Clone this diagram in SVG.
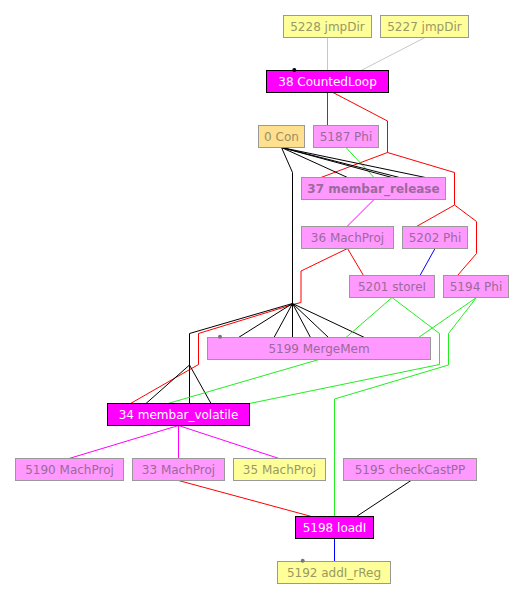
<svg xmlns="http://www.w3.org/2000/svg" width="527" height="607" viewBox="0 0 527 607">
<style>
rect{stroke-width:1}
.pk{fill:#ff99ff;stroke:#999999}
.ye{fill:#ffff99;stroke:#999999}
.co{fill:#ffe08f;stroke:#999999}
.mg{fill:#ff00ff;stroke:#000000}
text{font-family:"DejaVu Sans","Liberation Sans",sans-serif;font-size:12px;text-anchor:middle}
.tp{fill:#9a6a9a}
.ty{fill:#999966}
.tc{fill:#998f66}
.tw{fill:#ffffff}
.e path,.e line{fill:none;stroke-width:1}
.k{stroke:#000000}
.r{stroke:#ff0000}
.g{stroke:#22ee22}
.b{stroke:#0000ff}
.m{stroke:#ff00ff}
.y{stroke:#c8c8c8}
</style>
<rect width="527" height="607" fill="#ffffff"/>
<g class="e" id="connectors">
<line class="y" x1="327.5" y1="37.5" x2="327.5" y2="70.5"/>
<line class="y" x1="425" y1="37.5" x2="361" y2="70.5"/>
<line class="r" x1="327.5" y1="92.5" x2="327.5" y2="125.5"/>
<path class="r" d="M333,92.5 L387.5,121 L387.5,152.5 L321,177.5"/>
<path class="r" d="M387.5,152.5 L454.5,172.5 L454.5,205 L416.5,226.5"/>
<path class="r" d="M454.5,205 L476.5,221.5 L476.5,253.5 L457.5,275.5"/>
<line class="g" x1="346" y1="147.5" x2="374" y2="177.5"/>
<line class="k" x1="281.5" y1="147.5" x2="347.5" y2="177.5"/>
<line class="k" x1="281.5" y1="147.5" x2="392" y2="177.5"/>
<line class="k" x1="281.5" y1="147.5" x2="399.5" y2="177.5"/>
<line class="k" x1="281.5" y1="147.5" x2="425.5" y2="177.5"/>
<path class="k" d="M281.5,147.5 L292.5,172.5 L292.5,303.5"/>
<line class="m" x1="374" y1="199.5" x2="347" y2="226.5"/>
<path class="r" d="M347.5,248.5 L301,271 L301,302.5 L293,304.5 L198.5,333.5 L198.5,364.5 L130.5,403.5"/>
<line class="r" x1="347.5" y1="248.5" x2="363.5" y2="275.5"/>
<line class="b" x1="435" y1="248.5" x2="420" y2="275.5"/>
<path class="k" d="M292.5,303.5 L189.5,333.5 L189.5,403.5"/>
<line class="k" x1="189.5" y1="365" x2="146" y2="403.5"/>
<line class="k" x1="189.5" y1="365" x2="211" y2="403.5"/>
<line class="k" x1="292.5" y1="303.5" x2="238.5" y2="337.5"/>
<line class="k" x1="292.5" y1="303.5" x2="274" y2="337.5"/>
<line class="k" x1="292.5" y1="303.5" x2="292.5" y2="337.5"/>
<line class="k" x1="292.5" y1="303.5" x2="310.5" y2="337.5"/>
<line class="k" x1="292.5" y1="303.5" x2="328.5" y2="337.5"/>
<line class="k" x1="292.5" y1="303.5" x2="364.5" y2="337.5"/>
<line class="g" x1="392" y1="297.5" x2="346" y2="337.5"/>
<path class="g" d="M392,297.5 L439.5,333.5 L439.5,364.5 L249.5,403.5"/>
<line class="g" x1="476.5" y1="297.5" x2="418.5" y2="337.5"/>
<path class="g" d="M476.5,297.5 L448.5,333.5 L448.5,365 L334.5,399 L334.5,516.5"/>
<line class="g" x1="319" y1="359.5" x2="168" y2="403.5"/>
<line class="m" x1="178.5" y1="425.5" x2="69" y2="458.5"/>
<line class="m" x1="178.5" y1="425.5" x2="178.5" y2="458.5"/>
<line class="m" x1="178.5" y1="425.5" x2="279" y2="458.5"/>
<line class="r" x1="178.5" y1="480.5" x2="311.5" y2="516.5"/>
<line class="k" x1="411" y1="480.5" x2="356.5" y2="516.5"/>
<line class="b" x1="334.5" y1="538.5" x2="334.5" y2="561.5"/>
</g>
<g id="n5228"><rect class="ye" x="283.5" y="15.5" width="88" height="22"/><text class="ty" x="327.5" y="31">5228 jmpDir</text></g>
<g id="n5227"><rect class="ye" x="380.5" y="15.5" width="88" height="22"/><text class="ty" x="424.5" y="31">5227 jmpDir</text></g>
<g id="n38"><rect class="mg" x="266.5" y="70.5" width="122" height="22"/><text class="tw" x="327.5" y="86">38 CountedLoop</text><circle cx="294.3" cy="70" r="2" fill="#000000"/></g>
<g id="n0"><rect class="co" x="258.5" y="125.5" width="46" height="22"/><text class="tc" x="281.5" y="141">0 Con</text></g>
<g id="n5187"><rect class="pk" x="313.5" y="125.5" width="65" height="22"/><text class="tp" x="346" y="141">5187 Phi</text></g>
<g id="n37"><rect class="pk" x="301.5" y="177.5" width="144" height="22"/><text class="tp" x="373.5" y="193" font-weight="bold">37 membar_release</text></g>
<g id="n36"><rect class="pk" x="301.5" y="226.5" width="92" height="22"/><text class="tp" x="347.5" y="242">36 MachProj</text></g>
<g id="n5202"><rect class="pk" x="402.5" y="226.5" width="65" height="22"/><text class="tp" x="435" y="242">5202 Phi</text></g>
<g id="n5201"><rect class="pk" x="349.5" y="275.5" width="85" height="22"/><text class="tp" x="392" y="291">5201 storeI</text></g>
<g id="n5194"><rect class="pk" x="443.5" y="275.5" width="65" height="22"/><text class="tp" x="476" y="291">5194 Phi</text></g>
<g id="n5199"><rect class="pk" x="207.5" y="337.5" width="223" height="22"/><text class="tp" x="319" y="353">5199 MergeMem</text><circle cx="220" cy="336.7" r="2" fill="#777777"/></g>
<g id="n34"><rect class="mg" x="107.5" y="403.5" width="142" height="22"/><text class="tw" x="178.5" y="419">34 membar_volatile</text></g>
<g id="n5190"><rect class="pk" x="15.5" y="458.5" width="108" height="22"/><text class="tp" x="69.5" y="474">5190 MachProj</text></g>
<g id="n33"><rect class="pk" x="132.5" y="458.5" width="92" height="22"/><text class="tp" x="178.5" y="474">33 MachProj</text></g>
<g id="n35"><rect class="ye" x="233.5" y="458.5" width="92" height="22"/><text class="ty" x="279.5" y="474">35 MachProj</text></g>
<g id="n5195"><rect class="pk" x="343.5" y="458.5" width="133" height="22"/><text class="tp" x="410" y="474">5195 checkCastPP</text></g>
<g id="n5198"><rect class="mg" x="295.5" y="516.5" width="78" height="22"/><text class="tw" x="334.5" y="532">5198 loadI</text></g>
<g id="n5192"><rect class="ye" x="277.5" y="561.5" width="113" height="22"/><text class="ty" x="334" y="577">5192 addI_rReg</text><circle cx="302.7" cy="560.7" r="2" fill="#777777"/></g>
</svg>
